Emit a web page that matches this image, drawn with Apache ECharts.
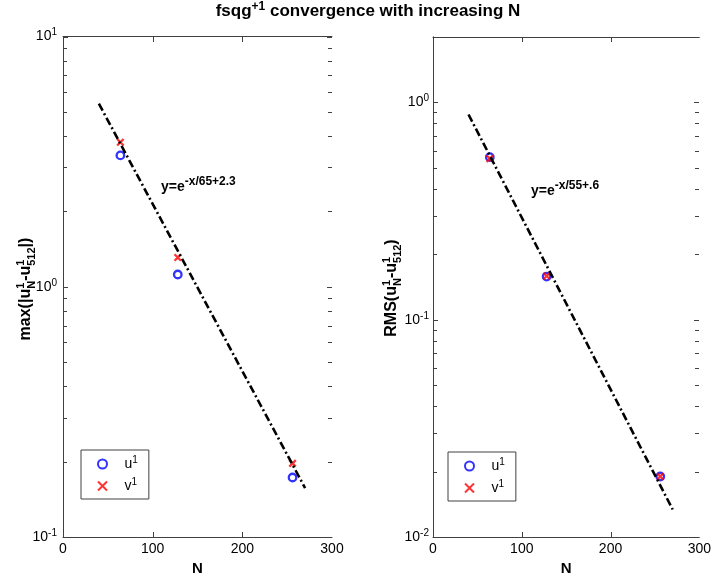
<!DOCTYPE html>
<html>
<head>
<meta charset="utf-8">
<script src="https://cdn.jsdelivr.net/npm/echarts@6/dist/echarts.min.js"></script>
<style>
  html, body { margin: 0; padding: 0; background: #fff; }
  #chart { width: 714px; height: 581px; }
</style>
</head>
<body>
<div id="chart"></div>
<script>
// Resolution study: error of u^1 / v^1 against the N=512 run
const N = [64, 128, 256];
const maxErrU = [3.35, 1.12, 0.173];
const maxErrV = [3.78, 1.31, 0.197];
const rmsErrU = [0.560, 0.158, 0.0190];
const rmsErrV = [0.551, 0.159, 0.0190];

// Fitted exponential decay, end points of the dash-dot guide
const fitN = [40, 270];
const fitMax = [5.39, 0.157];    // y = e^(-N/65+2.3)
const fitRms = [0.880, 0.0134];  // y = e^(-N/55+0.6)

// Axis ticks
const xTicks = [0, 100, 200, 300];
const maxRange = [0.1, 10];
const rmsRange = [0.01, 2];
const decadesMax = [0.1, 1, 10];
const decadesRms = [0.01, 0.1, 1];
const minorMax = [0.2, 0.3, 0.4, 0.5, 0.6, 0.7, 0.8, 0.9, 2, 3, 4, 5, 6, 7, 8, 9];
const minorRms = [0.02, 0.03, 0.04, 0.05, 0.06, 0.07, 0.08, 0.09, 0.2, 0.3, 0.4, 0.5, 0.6, 0.7, 0.8, 0.9];

const FONT = '"Liberation Sans", Arial, sans-serif';
const FRAME = '#404040';
const X_MIN = xTicks[0];
const X_MAX = xTicks[xTicks.length - 1];
const X_STEP = xTicks[1] - xTicks[0];

// ---- text runs with super/subscripts (stacked where needed) ----
const measureCtx = document.createElement('canvas').getContext('2d');
function textRun(pieces) {
  let end = 0, lastStart = 0;
  const kids = pieces.map(p => {
    const weight = p.weight || 'bold';
    measureCtx.font = weight + ' ' + p.size + 'px ' + FONT;
    const w = measureCtx.measureText(p.text).width;
    const start = p.stack ? lastStart : end;
    lastStart = start;
    end = Math.max(end, start + w);
    return {
      type: 'text', x: start, y: -(p.rise || 0) - 0.31 * p.size,
      style: { text: p.text, fontSize: p.size, fontWeight: weight, fontFamily: FONT,
               fill: '#000', align: 'left', verticalAlign: 'middle' }
    };
  });
  return { kids, width: end };
}
function placedRun(pieces, x, y, anchor, rotation) {
  const r = textRun(pieces);
  const shift = anchor === 'center' ? -r.width / 2 : 0;
  r.kids.forEach(k => { k.x += shift; });
  return { type: 'group', x, y, rotation: rotation || 0, silent: true, children: r.kids };
}

const supRich = {
  m: { fontSize: 14, fontFamily: FONT, color: '#000' },
  s: { fontSize: 10, fontFamily: FONT, color: '#000', padding: [0, 0, 8, 0] }
};
function decadeLabel(v) {
  const e = Math.log10(v);
  const r = Math.round(e);
  if (Math.abs(e - r) > 1e-6) return '';
  return '{m|10}{s|' + r + '}';
}

// ---- axes (frame lines and labels; inward ticks are added after layout) ----
function xAxes(grid) {
  const base = {
    gridIndex: grid, type: 'value', min: X_MIN, max: X_MAX, interval: X_STEP,
    splitLine: { show: false },
    axisLine: { show: true, lineStyle: { color: FRAME, width: 1 } },
    axisTick: { show: false }
  };
  return [
    Object.assign({}, base, {
      position: 'bottom',
      axisLabel: { show: true, color: '#000', fontSize: 14, fontFamily: FONT, margin: 5 },
      name: 'N', nameLocation: 'middle', nameGap: 22,
      nameTextStyle: { color: '#000', fontSize: 15, fontWeight: 'bold', fontFamily: FONT }
    }),
    Object.assign({}, base, { position: 'top', axisLabel: { show: false } })
  ];
}
function yAxes(grid, range, margin) {
  const base = {
    gridIndex: grid, type: 'log', logBase: 10, min: range[0], max: range[1],
    splitLine: { show: false },
    axisLine: { show: true, lineStyle: { color: FRAME, width: 1 } },
    axisTick: { show: false }
  };
  return [
    Object.assign({}, base, {
      position: 'left',
      axisLabel: { show: true, formatter: decadeLabel, rich: supRich, margin: margin,
                   showMinLabel: true, showMaxLabel: true }
    }),
    Object.assign({}, base, { position: 'right', axisLabel: { show: false } })
  ];
}

// ---- series ----
const circle = {
  type: 'scatter', symbol: 'circle', symbolSize: 7.5,
  itemStyle: { color: 'transparent', borderColor: '#0000ff', borderWidth: 2.3 }, z: 3
};
const cross = {
  type: 'scatter', symbol: 'path://M0,0L10,10M10,0L0,10', symbolSize: 6.5,
  itemStyle: { color: 'transparent', borderColor: '#ff0000', borderWidth: 2.3 }, z: 4
};
const zip = (xs, ys) => xs.map((x, i) => [x, ys[i]]);

function fitLine(grid, ys) {
  return {
    type: 'line', xAxisIndex: grid * 2, yAxisIndex: grid * 2, data: zip(fitN, ys),
    symbol: 'none', silent: true, z: 5,
    lineStyle: { color: '#000', width: 2.6, type: [8, 3, 2, 3] }
  };
}
function legendBox(left, top) {
  return {
    data: ['u1', 'v1'], orient: 'vertical', left, top,
    padding: [5, 11, 5, 16], itemGap: 5, itemWidth: 34, itemHeight: 9,
    borderColor: FRAME, borderWidth: 1, backgroundColor: '#fff',
    selectedMode: false,
    formatter: name => '{t|' + name[0] + '}{s|' + name.slice(1) + '}',
    textStyle: {
      lineHeight: 16,
      rich: {
        t: { fontSize: 14, fontFamily: FONT, color: '#000' },
        s: { fontSize: 10, fontFamily: FONT, color: '#000', padding: [0, 0, 8, 0] }
      }
    }
  };
}

const labels = [
  placedRun([
    { text: 'fsqg', size: 17 },
    { text: '+1', size: 12, rise: 7 },
    { text: ' convergence with increasing N', size: 17 }
  ], 368, 17, 'center'),
  placedRun([
    { text: 'max(|u', size: 16 },
    { text: '1', size: 11, rise: 7 },
    { text: 'N', size: 11, rise: -4, stack: true },
    { text: '-u', size: 16 },
    { text: '1', size: 11, rise: 7 },
    { text: '512', size: 11, rise: -4, stack: true },
    { text: '|)', size: 16 }
  ], 31, 289, 'center', Math.PI / 2),
  placedRun([
    { text: 'RMS(u', size: 16 },
    { text: '1', size: 11, rise: 7 },
    { text: 'N', size: 11, rise: -4, stack: true },
    { text: '-u', size: 16 },
    { text: '1', size: 11, rise: 7 },
    { text: '512', size: 11, rise: -4, stack: true },
    { text: ')', size: 16 }
  ], 397, 288, 'center', Math.PI / 2),
  placedRun([
    { text: 'y=e', size: 14 },
    { text: '-x/65+2.3', size: 12, rise: 6 }
  ], 161, 191, 'left'),
  placedRun([
    { text: 'y=e', size: 14 },
    { text: '-x/55+.6', size: 12, rise: 6 }
  ], 531, 195, 'left')
];

const chart = echarts.init(document.getElementById('chart'), null, { renderer: 'canvas' });
chart.setOption({
  animation: false,
  backgroundColor: '#fff',
  grid: [
    { left: 63, top: 36.5, width: 269, height: 504 },
    { left: 433, top: 37, width: 269, height: 503 }
  ],
  xAxis: xAxes(0).concat(xAxes(1)),
  yAxis: yAxes(0, maxRange, 6).concat(yAxes(1, rmsRange, 4)),
  legend: [legendBox(81, 450), legendBox(448, 452)],
  series: [
    Object.assign({}, circle, { name: 'u1', xAxisIndex: 0, yAxisIndex: 0, data: zip(N, maxErrU) }),
    Object.assign({}, cross, { name: 'v1', xAxisIndex: 0, yAxisIndex: 0, data: zip(N, maxErrV) }),
    fitLine(0, fitMax),
    Object.assign({}, circle, { name: 'u1', xAxisIndex: 2, yAxisIndex: 2, data: zip(N, rmsErrU) }),
    Object.assign({}, cross, { name: 'v1', xAxisIndex: 2, yAxisIndex: 2, data: zip(N, rmsErrV) }),
    fitLine(1, fitRms)
  ],
  graphic: labels
});

// Inward tick marks on all four edges, placed through each grid's own scales
function frameTicks(grid, yRange, decades, minors) {
  const finder = { xAxisIndex: grid * 2, yAxisIndex: grid * 2 };
  const px = p => chart.convertToPixel(finder, p);
  const seg = (x1, y1, x2, y2) => ({
    type: 'line', silent: true, z: 100,
    shape: { x1, y1, x2, y2 }, style: { stroke: FRAME, lineWidth: 1 }
  });
  const out = [];
  const yTick = (v, len) => {
    const a = px([X_MIN, v]);
    const b = px([X_MAX, v]);
    const y = Math.round(a[1]) + 0.5;
    out.push(seg(Math.round(a[0]), y, Math.round(a[0]) + len, y));
    out.push(seg(Math.round(b[0]), y, Math.round(b[0]) - len, y));
  };
  decades.forEach(v => yTick(v, 5));
  minors.forEach(v => yTick(v, 4));
  xTicks.slice(1, -1).forEach(v => {
    const a = px([v, yRange[0]]);
    const b = px([v, yRange[1]]);
    const x = Math.round(a[0]) + 0.5;
    out.push(seg(x, Math.round(a[1]), x, Math.round(a[1]) - 5));
    out.push(seg(x, Math.round(b[1]), x, Math.round(b[1]) + 5));
  });
  return out;
}
chart.setOption({
  graphic: labels
    .concat(frameTicks(0, maxRange, decadesMax, minorMax))
    .concat(frameTicks(1, rmsRange, decadesRms, minorRms))
});
</script>
</body>
</html>
